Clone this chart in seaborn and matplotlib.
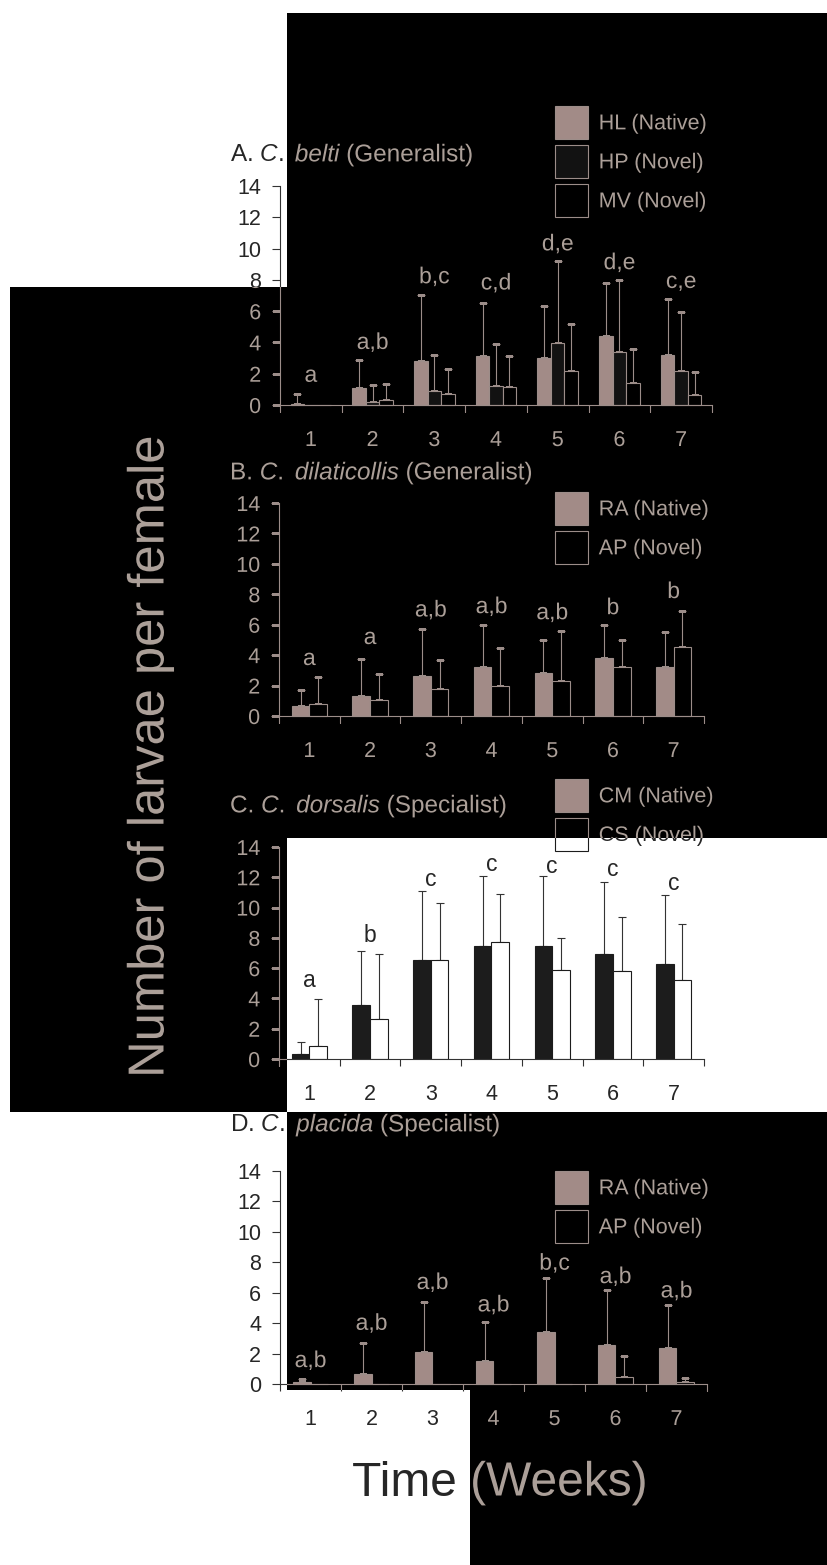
import numpy as np
import pandas as pd
import matplotlib
matplotlib.use("Agg")
import matplotlib.pyplot as plt
import seaborn as sns
from matplotlib.path import Path
from matplotlib.patches import PathPatch, Patch
from matplotlib.text import Text
from matplotlib.ticker import FixedLocator
import matplotlib.patheffects as pe

# ---------------- data ----------------
weeks = ["1", "2", "3", "4", "5", "6", "7"]

a_hosts = ["HL (Native)", "HP (Novel)", "MV (Novel)"]
a_hl_mean = [0.09, 1.06, 2.80, 3.15, 3.00, 4.43, 3.19]
a_hl_sd = [0.59, 1.79, 4.20, 3.35, 3.34, 3.40, 3.61]
a_hp_mean = [0.00, 0.17, 0.90, 1.23, 3.94, 3.36, 2.17]
a_hp_sd = [0.00, 1.09, 2.30, 2.64, 5.29, 4.62, 3.79]
a_mv_mean = [0.00, 0.32, 0.68, 1.17, 2.17, 1.38, 0.62]
a_mv_sd = [0.00, 1.00, 1.62, 1.98, 3.00, 2.17, 1.47]
a_letters = ["a", "a,b", "b,c", "c,d", "d,e", "d,e", "c,e"]

b_hosts = ["RA (Native)", "AP (Novel)"]
b_ra_mean = [0.66, 1.34, 2.62, 3.21, 2.84, 3.82, 3.21]
b_ra_sd = [1.03, 2.42, 3.09, 2.79, 2.13, 2.18, 2.28]
b_ap_mean = [0.81, 1.03, 1.80, 2.00, 2.29, 3.25, 4.53]
b_ap_sd = [1.76, 1.72, 1.91, 2.44, 3.27, 1.72, 2.37]
b_letters = ["a", "a", "a,b", "a,b", "a,b", "b", "b"]

c_hosts = ["CM (Native)", "CS (Novel)"]
c_cm_mean = [0.31, 3.58, 6.57, 7.47, 7.47, 6.95, 6.26]
c_cm_sd = [0.83, 3.56, 4.51, 4.62, 4.62, 4.74, 4.60]
c_cs_mean = [0.84, 2.66, 6.57, 7.71, 5.85, 5.80, 5.21]
c_cs_sd = [3.14, 4.26, 3.74, 3.17, 2.11, 3.58, 3.71]
c_letters = ["a", "b", "c", "c", "c", "c", "c"]

d_hosts = ["RA (Native)", "AP (Novel)"]
d_ra_mean = [0.11, 0.68, 2.10, 1.54, 3.40, 2.59, 2.35]
d_ra_sd = [0.20, 2.02, 3.32, 2.52, 3.55, 3.57, 2.85]
d_ap_mean = [0.00, 0.00, 0.00, 0.00, 0.00, 0.48, 0.15]
d_ap_sd = [0.00, 0.00, 0.00, 0.00, 0.00, 1.38, 0.27]
d_letters = ["a,b", "a,b", "a,b", "a,b", "b,c", "a,b", "a,b"]

titles = [r"A. $\mathit{C.}$ $\mathit{belti}$ (Generalist)",
          r"B. $\mathit{C.}$ $\mathit{dilaticollis}$ (Generalist)",
          r"C. $\mathit{C.}$ $\mathit{dorsalis}$ (Specialist)",
          r"D. $\mathit{C.}$ $\mathit{placida}$ (Specialist)"]
ylabel = "Number of larvae per female"
xlabel = "Time (Weeks)"

# ---------------- layout (pixels) ----------------
W, H = 827, 1565
panels = [
    dict(hosts=a_hosts, kinds=["native", "hp", "novel"],
         means=[a_hl_mean, a_hp_mean, a_mv_mean], sds=[a_hl_sd, a_hp_sd, a_mv_sd],
         letters=a_letters, letter_y=[1.9, 4.0, 8.2, 7.8, 10.3, 9.1, 7.9],
         rect=(280, 186, 712, 405), title_y=155, leg=(555, 106), width=0.656),
    dict(hosts=b_hosts, kinds=["native", "novel"],
         means=[b_ra_mean, b_ap_mean], sds=[b_ra_sd, b_ap_sd],
         letters=b_letters, letter_y=[3.78, 5.16, 6.97, 7.19, 6.79, 7.12, 8.18],
         rect=(279, 503, 704, 716), title_y=473, leg=(555, 492), width=0.58),
    dict(hosts=c_hosts, kinds=["native", "novel"],
         means=[c_cm_mean, c_cs_mean], sds=[c_cm_sd, c_cs_sd],
         letters=c_letters, letter_y=[5.16, 8.13, 11.87, 12.86, 12.68, 12.53, 11.58],
         rect=(279, 847, 704, 1059), title_y=806, leg=(555, 779), width=0.58),
    dict(hosts=d_hosts, kinds=["native", "novel"],
         means=[d_ra_mean, d_ap_mean], sds=[d_ra_sd, d_ap_sd],
         letters=d_letters, letter_y=[1.54, 3.99, 6.67, 5.2, 7.94, 7.06, 6.12],
         rect=(280, 1171, 707, 1384), title_y=1125, leg=(555, 1171), width=0.58),
]

normal = dict(native="#1c1c1c", hp="#8a8a8a", novel="white", edge="#1c1c1c",
              text="#262626", line="#333333")
inverted = dict(native="#a28b87", hp="#121212", novel="black", edge="#9c8d89",
                text="#ab9f98", line="#9c8d89")

sns.set_theme(style="ticks")
plt.rcParams["font.family"] = ["Liberation Sans", "DejaVu Sans"]
plt.rcParams["mathtext.fontset"] = "custom"
plt.rcParams["mathtext.rm"] = "Liberation Sans"
plt.rcParams["mathtext.it"] = "Liberation Sans:italic"

fig = plt.figure(figsize=(W / 100, H / 100), dpi=100)
fig.patch.set_facecolor("white")


def fx(x):
    return x / W


def fy(y):
    return 1 - y / H


# black (inverted) region of the poster
region_px = [(287, 13), (827, 13), (827, 838), (287, 838), (287, 1112), (827, 1112),
             (827, 1565), (470, 1565), (470, 1390), (287, 1390), (287, 1112),
             (10, 1112), (10, 287), (287, 287), (287, 13)]
verts = [(fx(x), fy(y)) for x, y in region_px]
codes = [Path.MOVETO] + [Path.LINETO] * (len(verts) - 2) + [Path.CLOSEPOLY]
clip = Path(verts, codes)
fig.add_artist(PathPatch(clip, transform=fig.transFigure, facecolor="black",
                         edgecolor="none", zorder=1))


def draw_panel(p, st, z):
    x0, y0, x1, y1 = p["rect"]
    ax = fig.add_axes([fx(x0), fy(y1), (x1 - x0) / W, (y1 - y0) / H])
    ax.set_zorder(z)
    ax.patch.set_visible(False)
    rows = []
    for wi, w in enumerate(weeks):
        for hi, h in enumerate(p["hosts"]):
            rows.append(dict(week=w, host=h, mean=p["means"][hi][wi], sd=p["sds"][hi][wi]))
    df = pd.DataFrame(rows)
    pal = {h: st[k] for h, k in zip(p["hosts"], p["kinds"])}
    sns.barplot(data=df, x="week", y="mean", hue="host", order=weeks,
                hue_order=p["hosts"], palette=pal, saturation=1, width=p["width"],
                errorbar=None, legend=False, edgecolor=st["edge"], linewidth=0.8, ax=ax)
    bars = sorted(ax.patches, key=lambda r: r.get_x() + r.get_width() / 2)
    xs = np.array([b.get_x() + b.get_width() / 2 for b in bars])
    tops = np.array([b.get_height() for b in bars])
    sd = df["sd"].to_numpy()
    m = sd > 0
    ax.errorbar(xs[m], tops[m], yerr=[np.zeros(m.sum()), sd[m]], fmt="none",
                ecolor=st["line"], elinewidth=0.8, capsize=3.2, capthick=0.8, zorder=0.5)
    ax.set_xlim(-0.5, 6.5)
    ax.set_ylim(0, 14)
    ax.set_yticks(range(0, 15, 2))
    ax.set_xticks(range(7))
    ax.set_xticklabels(weeks)
    ax.xaxis.set_minor_locator(FixedLocator(np.arange(-0.5, 7, 1)))
    ax.tick_params(axis="x", which="major", length=0, pad=18, labelsize=15.5,
                   labelcolor=st["text"])
    ax.tick_params(axis="x", which="minor", length=5, width=0.8, color=st["line"],
                   direction="out")
    ax.tick_params(axis="y", length=5.5, width=0.8, color=st["line"], pad=8,
                   labelsize=15.5, labelcolor=st["text"], direction="out")
    for s in ["top", "right"]:
        ax.spines[s].set_visible(False)
    for s in ["left", "bottom"]:
        ax.spines[s].set_color(st["line"])
        ax.spines[s].set_linewidth(0.8)
    ax.set_xlabel("")
    ax.set_ylabel("")
    for i, (lab, yy) in enumerate(zip(p["letters"], p["letter_y"])):
        ax.text(i, yy, lab, ha="center", va="center", fontsize=16.5, color=st["text"])
    handles = [Patch(facecolor=pal[h], edgecolor=st["edge"], linewidth=0.8) for h in p["hosts"]]
    lx, ly = p["leg"]
    ax.legend(handles, p["hosts"], loc="upper left", bbox_to_anchor=(fx(lx), fy(ly)),
              bbox_transform=fig.transFigure, frameon=False, borderpad=0,
              borderaxespad=0, handlelength=1.53, handleheight=1.98,
              labelspacing=0.28, handletextpad=0.5, fontsize=15.5,
              labelcolor=st["text"])
    return ax


def fig_texts(st, z):
    out = []
    for p, t in zip(panels, titles):
        out.append(fig.text(fx(230), fy(p["title_y"]), t, ha="left", va="center",
                            fontsize=17.5, color=st["text"], zorder=z))
    out.append(fig.text(fx(150), fy(756), ylabel, rotation=90, ha="center",
                        va="center", fontsize=36.5, color=st["text"], zorder=z))
    out.append(fig.text(fx(500), fy(1483), xlabel, ha="center", va="center",
                        fontsize=34.5, color=st["text"], zorder=z))
    return out


for p in panels:
    draw_panel(p, normal, 0)
fig_texts(normal, 0.5)

inv_axes = [draw_panel(p, inverted, 2) for p in panels]
inv_texts = fig_texts(inverted, 3)


def clip_to_region(obj):
    # the clip mask is shared, so no per-artist clip box may restrict it
    obj.set_clip_box(None)
    obj.set_clip_on(True)
    obj.set_clip_path(clip, fig.transFigure)
    if isinstance(obj, Text):
        obj.set_path_effects([pe.Normal()])


fig.canvas.draw()
for ax in inv_axes:
    for obj in ax.findobj():
        if obj is ax or obj is ax.patch:
            continue
        clip_to_region(obj)
for t in inv_texts:
    clip_to_region(t)

fig.savefig("out.png", dpi=100, facecolor="white")
